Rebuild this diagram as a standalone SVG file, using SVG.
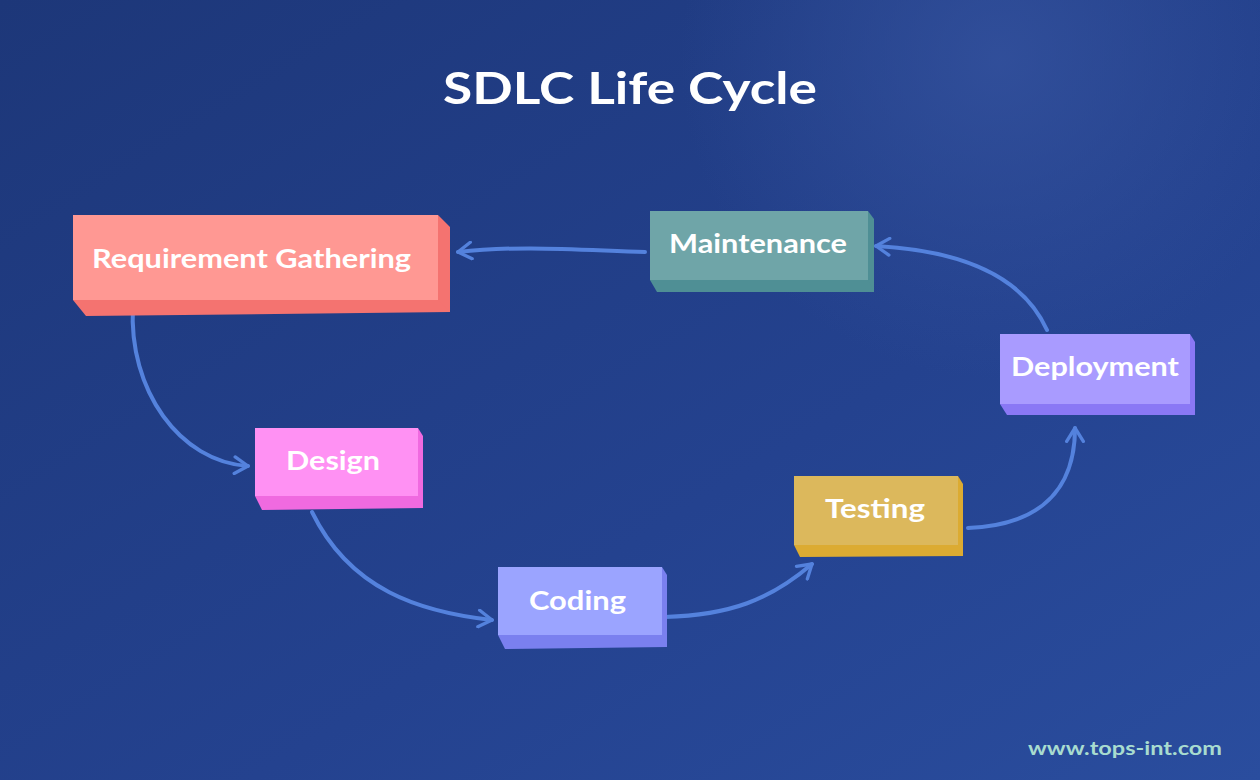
<svg xmlns="http://www.w3.org/2000/svg" width="1260" height="780" viewBox="0 0 1260 780">
<style>
.lbl{font-family:"Lato","Liberation Sans",sans-serif;font-weight:bold;font-size:26px;fill:#fff}
.c{fill:none;stroke:#5482dd;stroke-width:4;stroke-linecap:round;stroke-linejoin:round}
</style>
<defs>
<linearGradient id="bg" x1="0" y1="0" x2="1" y2="1">
<stop offset="0" stop-color="#1d3779"/><stop offset="0.6" stop-color="#24428f"/><stop offset="1" stop-color="#2a4d9e"/>
</linearGradient>
<radialGradient id="gl" cx="1000" cy="60" r="320" gradientUnits="userSpaceOnUse">
<stop offset="0" stop-color="#34529e" stop-opacity="0.8"/><stop offset="1" stop-color="#34529e" stop-opacity="0"/>
</radialGradient>
<marker id="ah" viewBox="0 0 12 12" refX="10" refY="6" markerWidth="5" markerHeight="5" orient="auto" markerUnits="strokeWidth">
<path d="M2,1 L10,6 L2,11" fill="none" stroke="#5482dd" stroke-width="2" stroke-linecap="round" stroke-linejoin="round"/>
</marker>
</defs>
<rect width="1260" height="780" fill="url(#bg)"/>
<rect width="1260" height="780" fill="url(#gl)"/>
<text x="443" y="104" textLength="374" lengthAdjust="spacingAndGlyphs" font-family="Lato,'Liberation Sans',sans-serif" font-weight="bold" font-size="44" fill="#fff">SDLC Life Cycle</text>
<g id="connectors">
<path class="c" marker-end="url(#ah)" d="M645,252 C580,250 520,245 458,252"/>
<path class="c" marker-end="url(#ah)" d="M133,306 C128,390 180,462 248,466"/>
<path class="c" marker-end="url(#ah)" d="M312,512 C350,590 420,612 492,620"/>
<path class="c" marker-end="url(#ah)" d="M665,617 C730,615 770,600 812,564"/>
<path class="c" marker-end="url(#ah)" d="M968,528 C1040,525 1075,490 1075,428"/>
<path class="c" marker-end="url(#ah)" d="M1047,330 C1020,270 950,250 876,246"/>
</g>
<g id="req">
<polygon points="73,300 450,300 450,312 86,316" fill="#f47370"/>
<polygon points="438,215 450,227 450,312 438,300" fill="#f47370"/>
<rect x="73" y="215" width="365" height="85" fill="#ff9893"/>
<text class="lbl" x="92" y="268" textLength="319" lengthAdjust="spacingAndGlyphs">Requirement Gathering</text>
</g>
<g id="maintenance">
<polygon points="650,280 874,280 874,292 657,292" fill="#4f8f95"/>
<polygon points="868,211 874,219 874,292 868,280" fill="#4f8f95"/>
<rect x="650" y="211" width="218" height="69" fill="#6fa5a8"/>
<text class="lbl" x="669" y="253" textLength="178" lengthAdjust="spacingAndGlyphs">Maintenance</text>
</g>
<g id="deployment">
<polygon points="1000,404 1195,404 1195,415 1007,415" fill="#8a78f5"/>
<polygon points="1190,334 1195,342 1195,415 1190,404" fill="#8a78f5"/>
<rect x="1000" y="334" width="190" height="70" fill="#a99bff"/>
<text class="lbl" x="1011" y="376" textLength="168" lengthAdjust="spacingAndGlyphs">Deployment</text>
</g>
<g id="design">
<polygon points="255,496 423,496 423,508 262,510" fill="#f06ae0"/>
<polygon points="418,428 423,436 423,508 418,496" fill="#f06ae0"/>
<rect x="255" y="428" width="163" height="68" fill="#ff91f3"/>
<text class="lbl" x="286" y="470" textLength="94" lengthAdjust="spacingAndGlyphs">Design</text>
</g>
<g id="testing">
<polygon points="794,545 963,545 963,556 800,557" fill="#dcab32"/>
<polygon points="958,476 963,484 963,556 958,545" fill="#dcab32"/>
<rect x="794" y="476" width="164" height="69" fill="#dcb85c"/>
<text class="lbl" x="825" y="518" textLength="100" lengthAdjust="spacingAndGlyphs">Testing</text>
</g>
<g id="coding">
<polygon points="498,635 667,635 667,647 505,649" fill="#7a80ef"/>
<polygon points="662,567 667,575 667,647 662,635" fill="#7a80ef"/>
<rect x="498" y="567" width="164" height="68" fill="#9ba4ff"/>
<text class="lbl" x="529" y="610" textLength="97" lengthAdjust="spacingAndGlyphs">Coding</text>
</g>
<text x="1028" y="755" textLength="194" lengthAdjust="spacingAndGlyphs" font-family="Lato,'Liberation Sans',sans-serif" font-weight="bold" font-size="19" fill="#a8dccf">www.tops-int.com</text>
</svg>
